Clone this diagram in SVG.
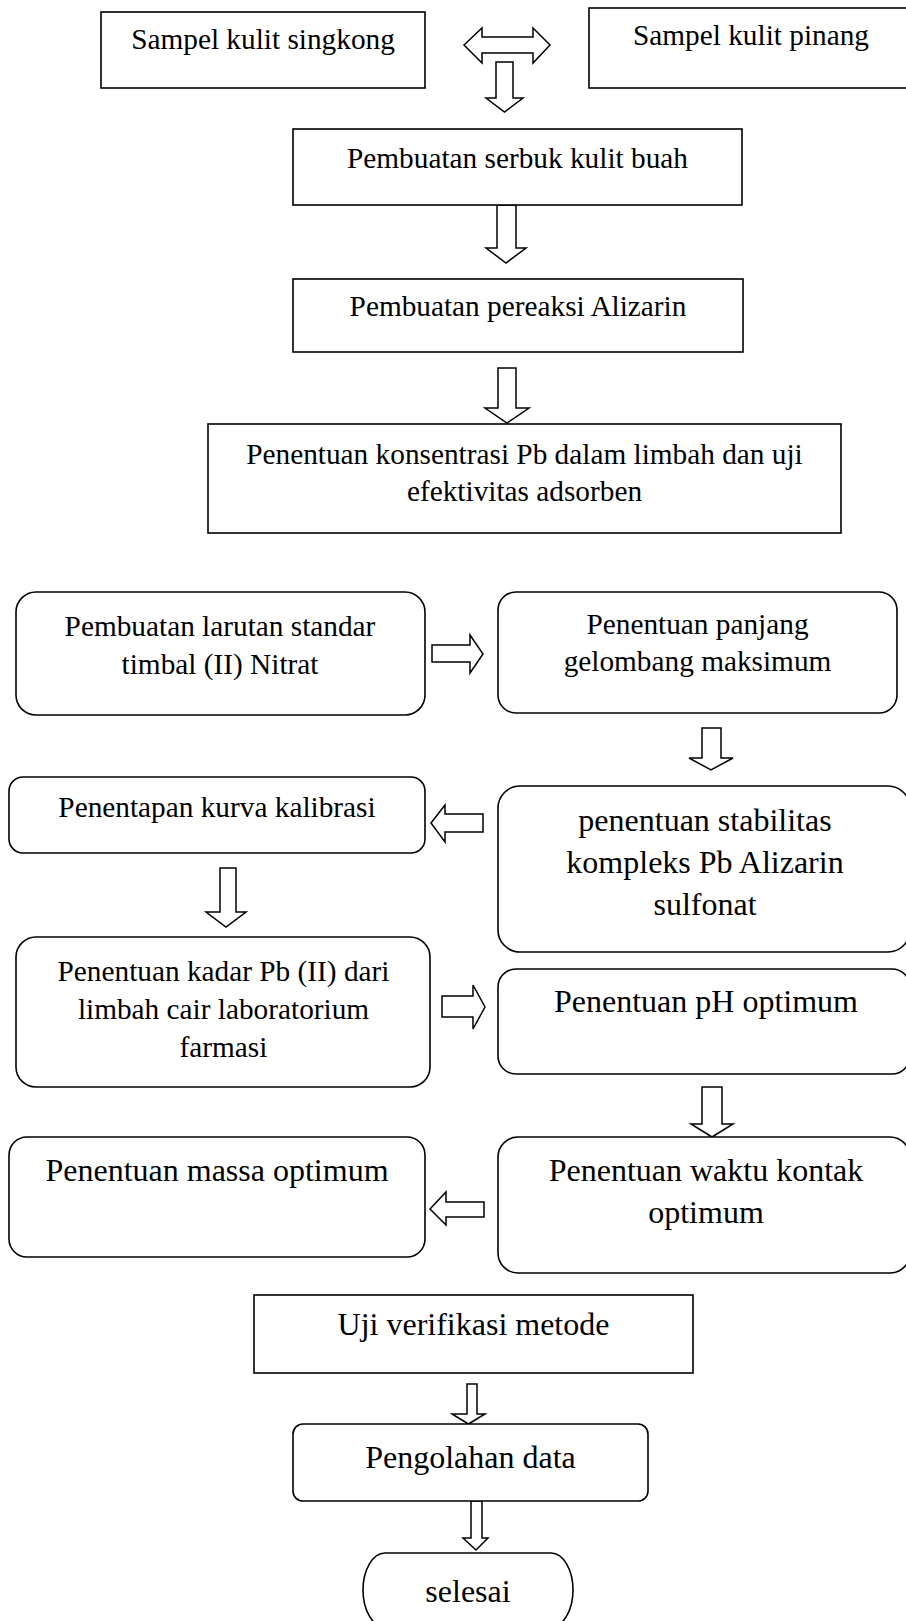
<svg xmlns="http://www.w3.org/2000/svg" width="906" height="1621" viewBox="0 0 906 1621">
<style>
.box{fill:#fff;stroke:#000;stroke-width:1.6}
.arr{fill:#fff;stroke:#000;stroke-width:1.5;stroke-linejoin:miter}
.t{font-family:"Liberation Serif","Times New Roman",serif;fill:#000;text-anchor:middle;font-size:29.3px}
.b{font-size:32px}
</style>
<rect width="906" height="1621" fill="#fff"/>
<g id="connectors">
<polygon class="arr" points="464,45 482,28 482,37 533,37 533,28 550,45 533,63 533,53 482,53 482,63"/>
<polygon class="arr" points="496,62 513,62 513,98 523,98 504.5,112 486,98 496,98"/>
<polygon class="arr" points="497,205 516,205 516,248 526,248 506,263 486,248 497,248"/>
<polygon class="arr" points="498,368 516,368 516,408 529,408 507,423 485,408 498,408"/>
<polygon class="arr" points="432,645 470,645 470,635 483,654 470,673 470,662 432,662"/>
<polygon class="arr" points="702,728 721,728 721,758 733,758 711,770 689,758 702,758"/>
<polygon class="arr" points="483,814 445,814 445,805 431,823 445,842 445,832 483,832"/>
<polygon class="arr" points="220,868 236,868 236,912 246,912 226,927 206,912 220,912"/>
<polygon class="arr" points="442,996 473,996 473,985 485,1007 473,1029 473,1017 442,1017"/>
<polygon class="arr" points="702,1087 722,1087 722,1124 733,1124 712,1137 691,1124 702,1124"/>
<polygon class="arr" points="484,1202 446,1202 446,1192 430,1209 446,1225 446,1217 484,1217"/>
<polygon class="arr" points="467,1384 477,1384 477,1414 485,1414 468.5,1424 452,1414 467,1414"/>
<polygon class="arr" points="471,1501 482,1501 482,1538 488,1538 476,1550 463,1538 471,1538"/>
</g>
<g id="n1"><rect class="box" x="101" y="12" width="324" height="76"/><text class="t" x="263" y="49">Sampel kulit singkong</text></g>
<g id="n2"><rect class="box" x="589" y="8" width="324" height="80"/><text class="t" x="751" y="45">Sampel kulit pinang</text></g>
<g id="n3"><rect class="box" x="293" y="129" width="449" height="76"/><text class="t" x="517.5" y="167.5">Pembuatan serbuk kulit buah</text></g>
<g id="n4"><rect class="box" x="293" y="279" width="450" height="73"/><text class="t" x="518" y="315.5">Pembuatan pereaksi Alizarin</text></g>
<g id="n5"><rect class="box" x="208" y="424" width="633" height="109"/><text class="t" x="524.5" y="463.5">Penentuan konsentrasi Pb dalam limbah dan uji</text><text class="t" x="524.5" y="501">efektivitas adsorben</text></g>
<g id="n6"><rect class="box" x="16" y="592" width="409" height="123" rx="20"/><text class="t" x="220" y="635.5">Pembuatan larutan standar</text><text class="t" x="220" y="673.5">timbal (II) Nitrat</text></g>
<g id="n7"><rect class="box" x="498" y="592" width="399" height="121" rx="18"/><text class="t" x="697.5" y="633.5">Penentuan panjang</text><text class="t" x="697.5" y="670.5">gelombang maksimum</text></g>
<g id="n8"><rect class="box" x="9" y="777" width="416" height="76" rx="14"/><text class="t" x="217" y="816.5">Penentapan kurva kalibrasi</text></g>
<g id="n9"><rect class="box" x="498" y="786" width="412" height="166" rx="22"/><text class="t b" x="705" y="831">penentuan stabilitas</text><text class="t b" x="705" y="873">kompleks Pb Alizarin</text><text class="t b" x="705" y="915">sulfonat</text></g>
<g id="n10"><rect class="box" x="16" y="937" width="414" height="150" rx="20"/><text class="t" x="223.5" y="980.5">Penentuan kadar Pb (II) dari</text><text class="t" x="223.5" y="1018.5">limbah cair laboratorium</text><text class="t" x="223.5" y="1056.5">farmasi</text></g>
<g id="n11"><rect class="box" x="498" y="969" width="412" height="105" rx="18"/><text class="t b" x="706" y="1012">Penentuan pH optimum</text></g>
<g id="n12"><rect class="box" x="9" y="1137" width="416" height="120" rx="18"/><text class="t b" x="217" y="1181">Penentuan massa optimum</text></g>
<g id="n13"><rect class="box" x="498" y="1137" width="412" height="136" rx="20"/><text class="t b" x="706" y="1181">Penentuan waktu kontak</text><text class="t b" x="706" y="1223">optimum</text></g>
<g id="n14"><rect class="box" x="254" y="1295" width="439" height="78"/><text class="t b" x="473.5" y="1334.5">Uji verifikasi metode</text></g>
<g id="n15"><rect class="box" x="293" y="1424" width="355" height="77" rx="10"/><text class="t b" x="470.5" y="1468">Pengolahan data</text></g>
<g id="n16"><rect class="box" x="363" y="1553" width="210" height="74" rx="22" ry="37"/><text class="t b" x="468" y="1601.5">selesai</text></g>
</svg>
